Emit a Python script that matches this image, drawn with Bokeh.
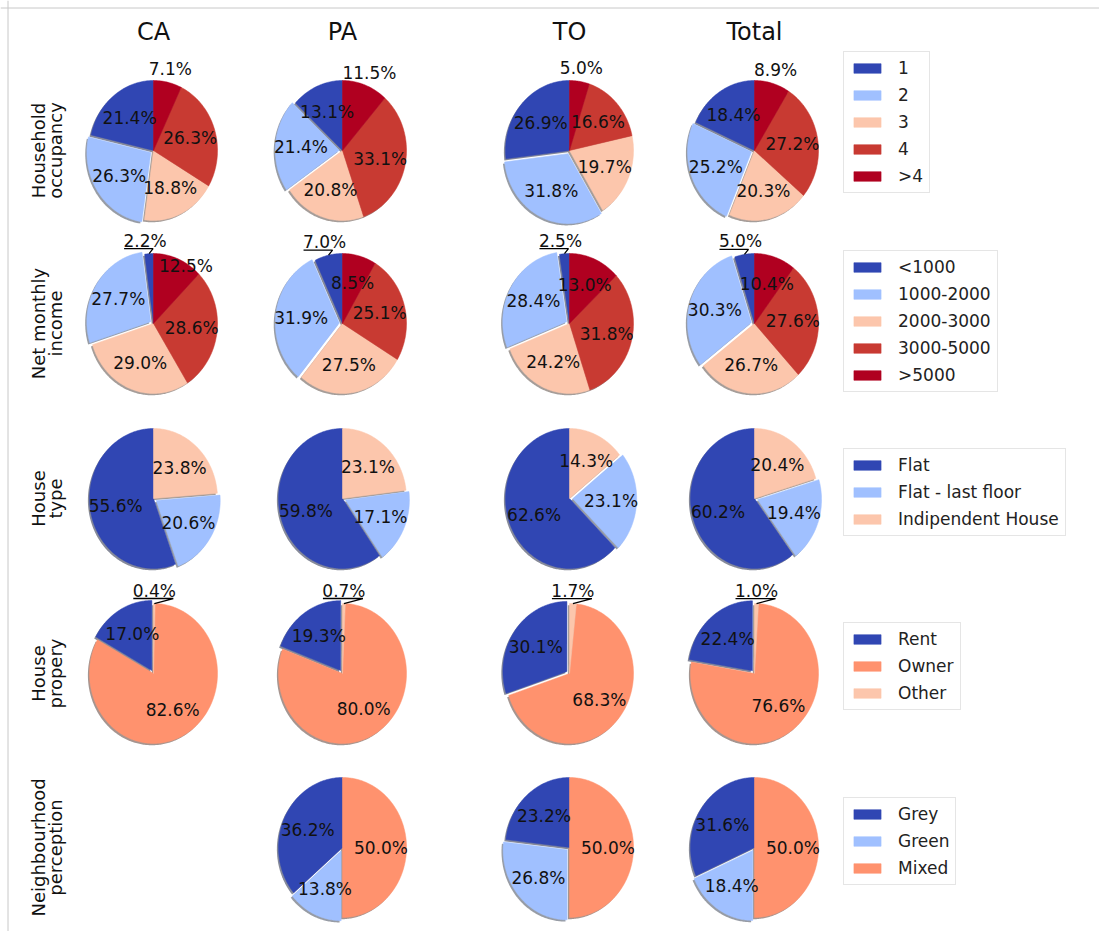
import numpy as np
from bokeh.plotting import figure
from bokeh.models import Range1d, Legend, LegendItem, Span
from bokeh.core.properties import value
from bokeh.embed import file_html
from bokeh.resources import INLINE

# ---------------- data ----------------
COLUMNS = ["CA", "PA", "TO", "Total"]
ROW_LABELS = [["Household", "occupancy"], ["Net monthly", "income"],
              ["House", "type"], ["House", "propery"],
              ["Neighbourhood", "perception"]]

occupancy_cats = ["1", "2", "3", "4", ">4"]
occupancy_CA = [21.4, 26.3, 18.8, 26.3, 7.1]
occupancy_PA = [13.1, 21.4, 20.8, 33.1, 11.5]
occupancy_TO = [26.9, 31.8, 19.7, 16.6, 5.0]
occupancy_Total = [18.4, 25.2, 20.3, 27.2, 8.9]

income_cats = ["<1000", "1000-2000", "2000-3000", "3000-5000", ">5000"]
income_CA = [2.2, 27.7, 29.0, 28.6, 12.5]
income_PA = [7.0, 31.9, 27.5, 25.1, 8.5]
income_TO = [2.5, 28.4, 24.2, 31.8, 13.0]
income_Total = [5.0, 30.3, 26.7, 27.6, 10.4]

housetype_cats = ["Flat", "Flat - last floor", "Indipendent House"]
housetype_CA = [55.6, 20.6, 23.8]
housetype_PA = [59.8, 17.1, 23.1]
housetype_TO = [62.6, 23.1, 14.3]
housetype_Total = [60.2, 19.4, 20.4]

property_cats = ["Rent", "Owner", "Other"]
property_CA = [17.0, 82.6, 0.4]
property_PA = [19.3, 80.0, 0.7]
property_TO = [30.1, 68.3, 1.7]
property_Total = [22.4, 76.6, 1.0]

neigh_cats = ["Grey", "Green", "Mixed"]
neigh_CA = None
neigh_PA = [36.2, 13.8, 50.0]
neigh_TO = [23.2, 26.8, 50.0]
neigh_Total = [31.6, 18.4, 50.0]

# ---------------- style / layout ----------------
DB, LB, PEACH, RED, DRED, SALMON = "#3046b3", "#a0c0ff", "#fcc6ac", "#c83a32", "#b00020", "#ff926e"
FONT_NAME = "DejaVu Sans"
FONT = value(FONT_NAME)

W, H = 1099, 931
def sx(px): return px
def sy(py): return H - py

COL_X = [sx(153), sx(342), sx(569), sx(754)]
ROW_Y = [sy(150), sy(323), sy(498), sy(673), sy(847)]
RX, RY = 64, 70
EXPLODE = 0.05
SHADOW = 0.025

ROWS = [
    dict(cats=occupancy_cats, vals=[occupancy_CA, occupancy_PA, occupancy_TO, occupancy_Total],
         colors=[DB, LB, PEACH, RED, DRED], explode=1, outside={4: 1.19}, annot=None, legend_top=53),
    dict(cats=income_cats, vals=[income_CA, income_PA, income_TO, income_Total],
         colors=[DB, LB, PEACH, RED, DRED], explode=1, outside={},
         annot=dict(idx=0, text_dx=-4, end_dx=4), legend_top=252),
    dict(cats=housetype_cats, vals=[housetype_CA, housetype_PA, housetype_TO, housetype_Total],
         colors=[DB, LB, PEACH], explode=1, outside={}, annot=None, legend_top=450),
    dict(cats=property_cats, vals=[property_CA, property_PA, property_TO, property_Total],
         colors=[DB, SALMON, PEACH], explode=0, outside={},
         annot=dict(idx=2, text_dx=0, end_dx=19), legend_top=624),
    dict(cats=neigh_cats, vals=[neigh_CA, neigh_PA, neigh_TO, neigh_Total],
         colors=[DB, LB, SALMON], explode=1, outside={}, annot=None, legend_top=799),
]
# (row, col, idx): (label distance, angle shift in degrees)
LABEL_OVERRIDE = {(1, 0, 4): (0.97, -9)}

p = figure(width=W, height=H, x_range=Range1d(0, W), y_range=Range1d(0, H),
           output_backend="svg", toolbar_location=None, min_border=0,
           x_axis_location=None, y_axis_location=None)
p.grid.visible = False
p.outline_line_color = None
p.background_fill_color = "white"
p.add_layout(Span(location=sx(7.5), dimension="height", line_color="#c8c8c8", line_width=1))
p.add_layout(Span(location=sy(7.5), dimension="width", line_color="#c8c8c8", line_width=1))


def arc_poly(cx, cy, a0, a1):
    n = max(3, int(abs(a1 - a0) * 180 / np.pi) + 3)
    t = np.linspace(a0, a1, n)
    xs = np.concatenate([[cx], cx + RX * np.cos(t)])
    ys = np.concatenate([[cy], cy + RY * np.sin(t)])
    return xs.tolist(), ys.tolist()


def darken(hexc):
    r, g, b = (int(hexc[i:i + 2], 16) for i in (1, 3, 5))
    return "#%02x%02x%02x" % (int(r * 0.3), int(g * 0.3), int(b * 0.3))


sh_xs, sh_ys, sh_col = [], [], []
lab_x, lab_y, lab_t = [], [], []
ann_xs, ann_ys = [], []
row_wedges = []

for r, row in enumerate(ROWS):
    ncat = len(row["cats"])
    wx = [[] for _ in range(ncat)]
    wy = [[] for _ in range(ncat)]
    for c, vals in enumerate(row["vals"]):
        if vals is None:
            continue
        cx, cy = COL_X[c], ROW_Y[r]
        v = np.array(vals, dtype=float)
        fr = v / v.sum()
        ends = np.pi / 2 + 2 * np.pi * np.cumsum(fr)
        starts = ends - 2 * np.pi * fr
        for i in range(ncat):
            a0, a1 = starts[i], ends[i]
            mid = (a0 + a1) / 2
            ex = EXPLODE if i == row["explode"] else 0.0
            ox, oy = ex * RX * np.cos(mid), ex * RY * np.sin(mid)
            xs, ys = arc_poly(cx + ox, cy + oy, a0, a1)
            wx[i].append(xs)
            wy[i].append(ys)
            sxs, sys_ = arc_poly(cx + ox - SHADOW * RX, cy + oy - SHADOW * RY, a0, a1)
            sh_xs.append(sxs)
            sh_ys.append(sys_)
            sh_col.append(darken(row["colors"][i]))
            txt = f"{vals[i]:.1f}%"
            ann = row["annot"]
            if ann is not None and ann["idx"] == i:
                px_ = cx + ox + RX * np.cos(mid)
                py_ = cy + oy + RY * np.sin(mid)
                tx = px_ + ann["text_dx"]
                ty = py_ + 13
                lab_x.append(tx); lab_y.append(ty); lab_t.append(txt)
                ann_xs.append([tx - 21, px_ + ann["end_dx"], px_])
                ann_ys.append([py_ + 5, py_ + 5, py_])
                continue
            dist = row["outside"].get(i, 0.6)
            ang = mid
            if (r, c, i) in LABEL_OVERRIDE:
                dist, shift = LABEL_OVERRIDE[(r, c, i)]
                ang = mid + np.deg2rad(shift)
            lab_x.append(cx + ox + dist * RX * np.cos(ang))
            lab_y.append(cy + oy + dist * RY * np.sin(ang))
            lab_t.append(txt)
    row_wedges.append((wx, wy))

# shadows behind all wedges
p.patches(xs=sh_xs, ys=sh_ys, fill_color=sh_col, fill_alpha=0.5, line_color=None)

for r, row in enumerate(ROWS):
    wx, wy = row_wedges[r]
    items = []
    for i, cat in enumerate(row["cats"]):
        col = row["colors"][i]
        rr = p.patches(xs=wx[i], ys=wy[i], fill_color=col, line_color=col, line_width=0.5)
        items.append(LegendItem(label=cat, renderers=[rr]))
    n = len(items)
    height = 2 * 6 + n * 20 + (n - 1) * 7
    leg = Legend(items=items, location=(sx(843), sy(row["legend_top"] + height)),
                 label_text_font=FONT_NAME, label_text_font_size="17px", label_text_color="#222222",
                 glyph_width=34, glyph_height=12, label_height=20, spacing=7, padding=6,
                 label_standoff=14, margin=0, border_line_color="#cccccc", border_line_width=1,
                 background_fill_color="white", background_fill_alpha=1.0)
    p.add_layout(leg, "center")

p.multi_line(xs=ann_xs, ys=ann_ys, line_color="black", line_width=1.3)
p.text(x=lab_x, y=lab_y, text=lab_t, text_font=FONT, text_font_size="17px",
       text_align="center", text_baseline="middle", text_color="#111111")

# column titles
p.text(x=COL_X, y=[sy(31)] * len(COLUMNS), text=COLUMNS, text_font=FONT,
       text_font_size="24px", text_align="center", text_baseline="middle", text_color="#111111")

# row labels (rotated, two lines)
for r, lines in enumerate(ROW_LABELS):
    p.text(x=[sx(38), sx(55)], y=[ROW_Y[r], ROW_Y[r]], text=lines, angle=np.pi / 2,
           text_font=FONT, text_font_size="18px", text_align="center",
           text_baseline="middle", text_color="#111111")

open("out.html", "w").write(file_html(p, INLINE))
